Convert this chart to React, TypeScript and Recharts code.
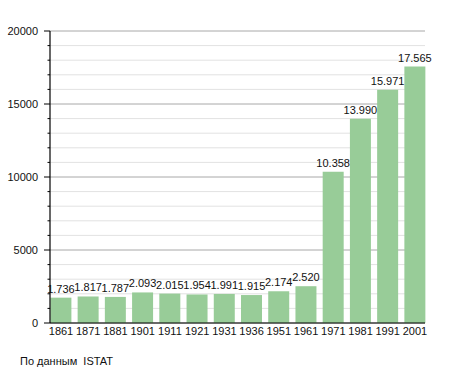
import { BarChart, Bar, XAxis, YAxis, CartesianGrid, LabelList } from "recharts";

const years = ["1861", "1871", "1881", "1901", "1911", "1921", "1931", "1936", "1951", "1961", "1971", "1981", "1991", "2001"];
const population = [1736, 1817, 1787, 2093, 2015, 1954, 1991, 1915, 2174, 2520, 10358, 13990, 15971, 17565];
const yTicks = [
  0, 1000, 2000, 3000, 4000, 5000, 6000, 7000, 8000, 9000, 10000,
  11000, 12000, 13000, 14000, 15000, 16000, 17000, 18000, 19000, 20000,
];

const data = years.map((year, i) => ({ year, value: population[i] }));

const FONT = "'Liberation Sans', Arial, sans-serif";

function formatThousands(v: number): string {
  return String(v).replace(/\B(?=(\d{3})+(?!\d))/g, ".");
}

function YTick(props: any) {
  const { x, y, payload } = props;
  const major = payload.value % 5000 === 0;
  return (
    <g>
      <line x1={x - (major ? 6 : 2.5)} x2={x} y1={y} y2={y} stroke="#000" strokeWidth={1} />
      {major && (
        <text x={x - 12} y={y} dy={4} textAnchor="end" fontSize={11} fill="#111" fontFamily={FONT}>
          {payload.value}
        </text>
      )}
    </g>
  );
}

function GridLine(props: any) {
  const { x1, x2, y1, y2, index } = props;
  const major = index % 5 === 0;
  return (
    <line
      key={`g-${index}`}
      x1={x1}
      x2={x2}
      y1={y1}
      y2={y2}
      stroke={major ? "#a8a8a8" : "#e2e2e2"}
      strokeWidth={1}
    />
  );
}

export default function App() {
  return (
    <div style={{ position: "absolute", left: 0, top: 0, width: 455, height: 373, background: "#fff" }}>
      <BarChart
        width={455}
        height={373}
        data={data}
        margin={{ top: 31, right: 30, left: 0, bottom: 0 }}
        barSize={21}
      >
        <CartesianGrid vertical={false} horizontal={GridLine} />
        <XAxis
          dataKey="year"
          height={50}
          tickLine={false}
          tickSize={0}
          tickMargin={4}
          padding={{ left: -2.6, right: -3.6 }}
          axisLine={{ stroke: "#000", strokeWidth: 1.2 }}
          tick={{ fontSize: 11, fill: "#111", fontFamily: FONT }}
          interval={0}
        />
        <YAxis
          width={50}
          domain={[0, 20000]}
          ticks={yTicks}
          interval={0}
          tickLine={false}
          tickSize={0}
          tickMargin={0}
          axisLine={{ stroke: "#000", strokeWidth: 1.2 }}
          tick={YTick}
        />
        <Bar dataKey="value" fill="#98cc98" isAnimationActive={false}>
          <LabelList
            dataKey="value"
            position="top"
            offset={5}
            formatter={(v: any) => formatThousands(Number(v))}
            style={{ fontSize: 11, fill: "#111", fontFamily: FONT }}
          />
        </Bar>
      </BarChart>
      <div
        style={{
          position: "absolute",
          left: 20,
          top: 355,
          fontSize: 11,
          fontFamily: FONT,
          color: "#111",
          whiteSpace: "pre",
        }}
      >
        По данным  ISTAT
      </div>
    </div>
  );
}
